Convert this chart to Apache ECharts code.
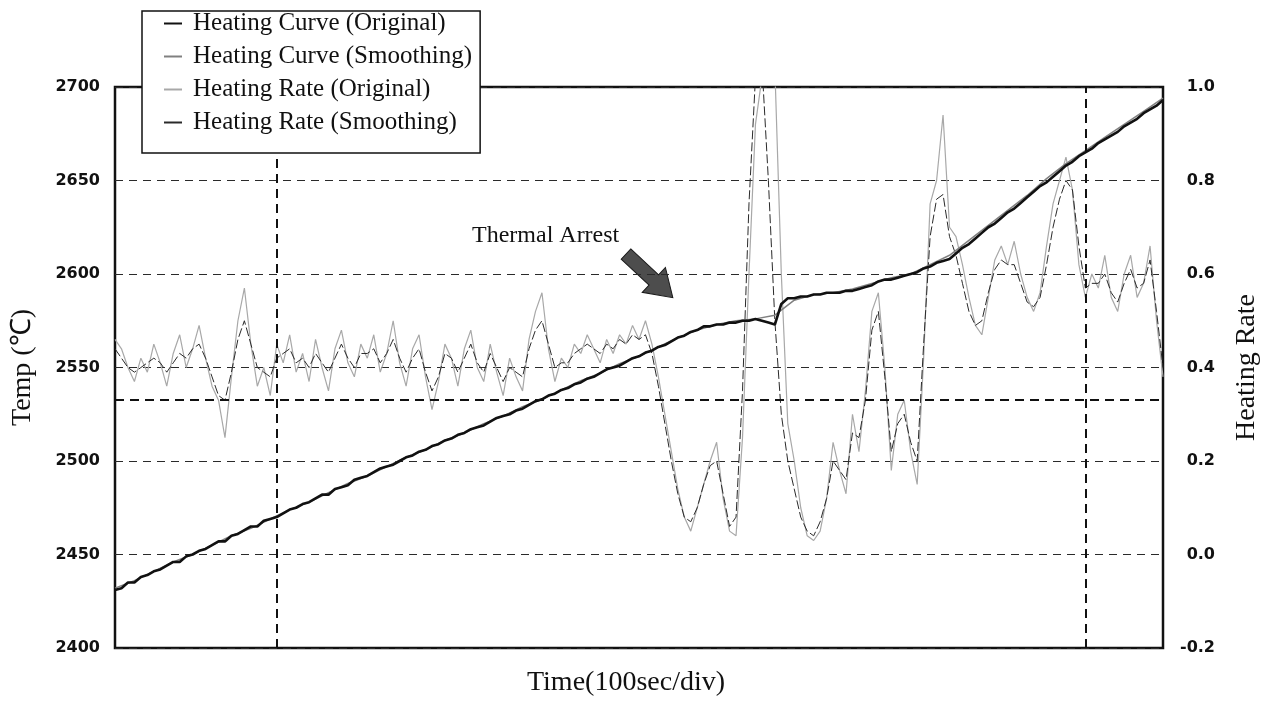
<!DOCTYPE html>
<html>
<head>
<meta charset="utf-8">
<title>Heating Curve</title>
<script src="https://cdn.jsdelivr.net/npm/echarts@6/dist/echarts.min.js"></script>
<style>
  html, body { margin: 0; padding: 0; background: #fff; }
  #chart { width: 1268px; height: 701px; }
</style>
</head>
<body>
<div id="chart"></div>
<script>
// time in seconds, 100 sec/div
const sampleStep = 4;
const smoothStep = 12;
const timeTicks = [0, 100, 200, 300, 400, 500, 600];
const markedTimes = [100, 600];
const thresholdRate = 0.33;

const tempTicks = [2400, 2450, 2500, 2550, 2600, 2650, 2700];
const rateTicks = [-0.2, 0.0, 0.2, 0.4, 0.6, 0.8, 1.0];

// heating curve (original), one value every 4 s
const tempOriginal = [
  2431, 2432, 2435, 2435, 2438, 2439, 2441, 2442, 2444, 2446,
  2446, 2449, 2450, 2452, 2453, 2455, 2457, 2457, 2460, 2461,
  2463, 2465, 2465, 2468, 2469, 2470, 2472, 2474, 2475, 2477,
  2478, 2480, 2482, 2482, 2485, 2486, 2487, 2490, 2491, 2492,
  2494, 2496, 2497, 2498, 2500, 2502, 2503, 2505, 2506, 2508,
  2509, 2511, 2512, 2514, 2515, 2517, 2518, 2519, 2521, 2523,
  2524, 2525, 2527, 2528, 2530, 2532, 2533, 2535, 2536, 2538,
  2539, 2541, 2542, 2544, 2545, 2547, 2549, 2550, 2551, 2553,
  2555, 2556, 2558, 2559, 2561, 2562, 2564, 2566, 2567, 2569,
  2570, 2572, 2572, 2573, 2573, 2574, 2574, 2575, 2575, 2576,
  2575, 2574, 2573, 2584, 2587, 2587, 2588, 2588, 2589, 2589,
  2590, 2590, 2590, 2591, 2591, 2592, 2593, 2594, 2596, 2597,
  2597, 2598, 2599, 2600, 2601, 2603, 2604, 2606, 2607, 2608,
  2611, 2614, 2616, 2619, 2622, 2625, 2627, 2630, 2633, 2635,
  2638, 2641, 2644, 2647, 2649, 2652, 2655, 2658, 2660, 2663,
  2665, 2667, 2670, 2672, 2674, 2676, 2679, 2681, 2683, 2686,
  2688, 2690, 2693
];

// heating curve (smoothing), one value every 12 s
const tempSmoothing = [
  2432, 2436, 2441, 2446, 2450, 2455, 2460, 2464, 2469, 2474,
  2478, 2483, 2488, 2492, 2497, 2502, 2506, 2511, 2515, 2520,
  2524, 2529, 2533, 2538, 2543, 2547, 2552, 2556, 2561, 2566,
  2570, 2573, 2575, 2576, 2578, 2586, 2589, 2590, 2592, 2595,
  2598, 2600, 2605, 2610, 2618, 2626, 2634, 2642, 2651, 2659,
  2666, 2673, 2680, 2687, 2694
];

// heating rate (original), one value every 4 s
const rateOriginal = [
  0.46, 0.44, 0.40, 0.37, 0.42, 0.39, 0.45, 0.41, 0.36, 0.43,
  0.47, 0.40, 0.44, 0.49, 0.42, 0.36, 0.33, 0.25, 0.38, 0.50,
  0.57, 0.45, 0.36, 0.40, 0.34, 0.45, 0.41, 0.47, 0.39, 0.43,
  0.37, 0.46, 0.40, 0.35, 0.44, 0.48, 0.41, 0.38, 0.45, 0.42,
  0.47, 0.39, 0.43, 0.50, 0.41, 0.36, 0.44, 0.47, 0.38, 0.31,
  0.37, 0.45, 0.42, 0.36, 0.44, 0.48, 0.40, 0.37, 0.45, 0.39,
  0.34, 0.42, 0.38, 0.35, 0.46, 0.52, 0.56, 0.44, 0.37, 0.42,
  0.40, 0.45, 0.43, 0.47, 0.44, 0.41, 0.46, 0.43, 0.47, 0.45,
  0.49, 0.46, 0.50, 0.45, 0.38, 0.30, 0.22, 0.14, 0.08, 0.05,
  0.10, 0.15, 0.20, 0.24, 0.12, 0.05, 0.04, 0.25, 0.60, 0.92,
  1.02, 1.05, 1.04, 0.60, 0.28, 0.20, 0.10, 0.04, 0.03, 0.05,
  0.12, 0.24, 0.18, 0.13, 0.30, 0.22, 0.35, 0.52, 0.56, 0.40,
  0.18, 0.30, 0.33, 0.22, 0.15, 0.42, 0.75, 0.80, 0.94, 0.70,
  0.68, 0.62, 0.55, 0.49, 0.47, 0.55, 0.63, 0.66, 0.62, 0.67,
  0.60, 0.55, 0.52, 0.56, 0.66, 0.75, 0.80, 0.85, 0.78, 0.62,
  0.55, 0.60, 0.57, 0.64, 0.55, 0.52, 0.60, 0.64, 0.55, 0.58,
  0.66, 0.50, 0.38
];

// heating rate (smoothing), one value every 4 s
const rateSmoothing = [
  0.44, 0.42, 0.40, 0.39, 0.40, 0.41, 0.42, 0.41, 0.39, 0.41,
  0.43, 0.42, 0.44, 0.45, 0.42, 0.38, 0.34, 0.33, 0.39, 0.46,
  0.50, 0.45, 0.40, 0.39, 0.38, 0.42, 0.43, 0.44, 0.41, 0.42,
  0.40, 0.43, 0.41, 0.39, 0.42, 0.45, 0.42, 0.40, 0.43, 0.43,
  0.44, 0.41, 0.43, 0.46, 0.42, 0.39, 0.42, 0.44, 0.39, 0.35,
  0.38, 0.43, 0.42, 0.39, 0.42, 0.45, 0.41, 0.39, 0.43, 0.40,
  0.37, 0.40, 0.39, 0.38, 0.44, 0.48, 0.50, 0.45, 0.40, 0.41,
  0.41, 0.43, 0.44, 0.45, 0.44, 0.43, 0.45, 0.44, 0.46, 0.45,
  0.47, 0.46, 0.47, 0.43, 0.36, 0.28, 0.20, 0.13, 0.08, 0.07,
  0.10, 0.15, 0.19, 0.20, 0.13, 0.06, 0.08, 0.35, 0.75, 1.02,
  1.05, 0.80, 0.50, 0.30, 0.20, 0.14, 0.08, 0.05, 0.04, 0.07,
  0.12, 0.20, 0.18, 0.16, 0.26, 0.25, 0.33, 0.48, 0.52, 0.38,
  0.22, 0.28, 0.30, 0.24, 0.20, 0.45, 0.68, 0.76, 0.77, 0.68,
  0.64, 0.58, 0.52, 0.49, 0.50, 0.56, 0.61, 0.63, 0.62, 0.62,
  0.58, 0.54, 0.53, 0.55, 0.62, 0.70, 0.76, 0.80, 0.78, 0.66,
  0.57, 0.58, 0.58, 0.60, 0.56, 0.54, 0.58, 0.61, 0.57, 0.58,
  0.63, 0.52, 0.40
];

const withTime = (values, step) => values.map((v, i) => [i * step, v]);

const serif = 'Liberation Serif, Times New Roman, serif';
const tickFont = { fontFamily: 'DejaVu Sans', fontWeight: 'bold', fontSize: 16, color: '#111' };
const gridDash = { color: '#2a2a2a', width: 1.2, type: [8, 6] };
const heavyDash = { color: '#111', width: 2, type: [9, 6] };

const chart = echarts.init(document.getElementById('chart'));

const option = {
  animation: false,
  backgroundColor: '#fff',
  grid: {
    left: 115,
    right: 105,
    top: 87,
    bottom: 53,
    outerBoundsMode: 'none',
    show: true,
    borderColor: '#111',
    borderWidth: 2.5,
    backgroundColor: 'transparent'
  },
  legend: {
    orient: 'vertical',
    left: 142,
    top: 11,
    padding: [0, 8, 18, 22],
    itemGap: 8,
    itemWidth: 18,
    itemHeight: 2,
    icon: 'rect',
    backgroundColor: '#fff',
    borderColor: '#111',
    borderWidth: 1.5,
    z: 10,
    textStyle: { fontFamily: serif, fontSize: 25, color: '#111', lineHeight: 25, padding: [0, 0, 0, 6] },
    data: [
      'Heating Curve (Original)',
      'Heating Curve (Smoothing)',
      'Heating Rate (Original)',
      'Heating Rate (Smoothing)'
    ]
  },
  xAxis: {
    type: 'value',
    min: timeTicks[0],
    max: 648,
    interval: 100,
    name: 'Time(100sec/div)',
    nameLocation: 'middle',
    nameGap: 21,
    nameTextStyle: { fontFamily: serif, fontSize: 28, color: '#111', padding: [0, 26, 0, 0] },
    axisLine: { show: false },
    axisTick: { show: false },
    axisLabel: { show: false },
    splitLine: { show: false }
  },
  yAxis: [
    {
      type: 'value',
      min: tempTicks[0],
      max: tempTicks[tempTicks.length - 1],
      interval: 50,
      name: 'Temp (℃)',
      nameLocation: 'middle',
      nameGap: 78,
      nameTextStyle: { fontFamily: serif, fontSize: 28, color: '#111' },
      axisLine: { show: false },
      axisTick: { show: false },
      axisLabel: Object.assign({ margin: 15, formatter: (v) => String(v) }, tickFont),
      splitLine: { show: true, lineStyle: gridDash }
    },
    {
      type: 'value',
      position: 'right',
      min: rateTicks[0],
      max: rateTicks[rateTicks.length - 1],
      interval: 0.2,
      name: 'Heating Rate',
      nameLocation: 'middle',
      nameGap: 70,
      nameTextStyle: { fontFamily: serif, fontSize: 28, color: '#111' },
      axisLine: { show: false },
      axisTick: { show: false },
      axisLabel: Object.assign({
        margin: 52,
        align: 'right',
        formatter: (v) => v.toFixed(1)
      }, tickFont),
      splitLine: { show: false }
    }
  ],
  series: [
    {
      name: 'Heating Rate (Original)',
      type: 'line',
      yAxisIndex: 1,
      showSymbol: false,
      z: 2,
      color: '#a8a8a8',
      lineStyle: { color: '#a8a8a8', width: 1.2 },
      data: withTime(rateOriginal, sampleStep),
      markLine: {
        silent: true,
        symbol: 'none',
        label: { show: false },
        lineStyle: heavyDash,
        data: markedTimes.map((t) => ({ xAxis: t })).concat([{ yAxis: thresholdRate }])
      }
    },
    {
      name: 'Heating Rate (Smoothing)',
      type: 'line',
      yAxisIndex: 1,
      showSymbol: false,
      z: 3,
      color: '#2a2a2a',
      lineStyle: { color: '#2a2a2a', width: 1, type: [9, 3] },
      data: withTime(rateSmoothing, sampleStep)
    },
    {
      name: 'Heating Curve (Smoothing)',
      type: 'line',
      yAxisIndex: 0,
      showSymbol: false,
      z: 4,
      color: '#808080',
      lineStyle: { color: '#808080', width: 1.5 },
      data: withTime(tempSmoothing, smoothStep)
    },
    {
      name: 'Heating Curve (Original)',
      type: 'line',
      yAxisIndex: 0,
      showSymbol: false,
      z: 5,
      color: '#111',
      lineStyle: { color: '#111', width: 2.6 },
      data: withTime(tempOriginal, sampleStep)
    }
  ],
  graphic: [
    {
      type: 'text',
      left: 472,
      top: 224,
      style: { text: 'Thermal Arrest', fontFamily: serif, fontSize: 24, fill: '#111' }
    },
    {
      type: 'polygon',
      x: 626,
      y: 254,
      rotation: -0.75,
      shape: {
        points: [[0, -7], [38, -7], [38, -17], [64, 0], [38, 17], [38, 7], [0, 7]]
      },
      style: { fill: '#4d4d4d', stroke: '#1a1a1a', lineWidth: 1 }
    }
  ]
};

chart.setOption(option);
</script>
</body>
</html>
